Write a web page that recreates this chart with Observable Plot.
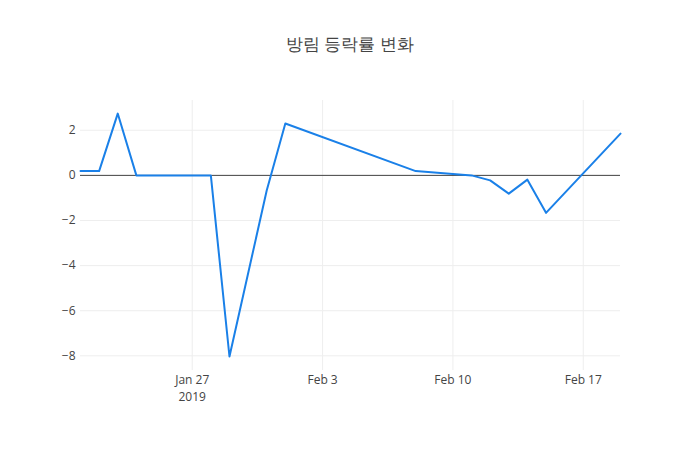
<!DOCTYPE html>
<html>
<head>
<meta charset="utf-8">
<script src="https://cdn.jsdelivr.net/npm/d3@7"></script>
<script src="https://cdn.jsdelivr.net/npm/@observablehq/plot@0.6"></script>
<style>
  html, body { margin: 0; padding: 0; background: #fff; }
  #wrap { position: relative; width: 700px; height: 450px; font-family: "Open Sans", sans-serif; }
  #title { position: absolute; top: 32px; left: 0; width: 700px; text-align: center; font-size: 17px; color: #444; }
  #chart { position: absolute; top: 0; left: 0; }
</style>
</head>
<body>
<div id="wrap">
  <div id="chart"></div>
  <div id="title">방림 등락률 변화</div>
</div>
<script>
const dates = ["2019-01-21","2019-01-22","2019-01-23","2019-01-24","2019-01-25","2019-01-28","2019-01-29","2019-01-31","2019-02-01","2019-02-08","2019-02-11","2019-02-12","2019-02-13","2019-02-14","2019-02-15","2019-02-19"];
const values = [0.19, 0.19, 2.74, 0, 0, 0, -8.03, -0.67, 2.3, 0.19, 0.0, -0.22, -0.81, -0.19, -1.66, 1.85];
const xTicks = ["2019-01-27","2019-02-03","2019-02-10","2019-02-17"];
const xTickLabels = ["Jan 27\n2019","Feb 3","Feb 10","Feb 17"];
const yTicks = [-8, -6, -4, -2, 0, 2];

const data = dates.map((d, i) => ({date: new Date(d + "T00:00:00Z"), value: values[i]}));
const xt = xTicks.map(d => new Date(d + "T00:00:00Z"));
const labelFor = d => xTickLabels[xt.findIndex(t => +t === +d)];

const chart = Plot.plot({
  width: 700,
  height: 450,
  marginTop: 100,
  marginBottom: 80,
  marginLeft: 80,
  marginRight: 80,
  style: {fontFamily: "'Open Sans', sans-serif", fontSize: "12px", color: "#444", background: "transparent"},
  x: {type: "utc", domain: [new Date("2019-01-21T00:00:00Z"), new Date("2019-02-19T00:00:00Z")]},
  y: {domain: [-8.65, 3.32]},
  marks: [
    Plot.gridY(yTicks, {stroke: "#eee", strokeOpacity: 1}),
    Plot.gridX(xt, {stroke: "#eee", strokeOpacity: 1}),
    Plot.ruleY([0], {stroke: "#444", strokeWidth: 1}),
    Plot.axisY(yTicks, {tickSize: 0, tickPadding: 5, tickFormat: d => d < 0 ? "\u2212" + Math.abs(d) : String(d), label: null, fill: "#444", fontSize: 12}),
    Plot.axisX(xt, {tickSize: 0, tickPadding: 2, tickFormat: labelFor, label: null, fill: "#444", fontSize: 12, lineHeight: 1.4}),
    Plot.line(data, {x: "date", y: "value", stroke: "#1a80e8", strokeWidth: 2})
  ]
});
document.getElementById("chart").appendChild(chart);
</script>
</body>
</html>
